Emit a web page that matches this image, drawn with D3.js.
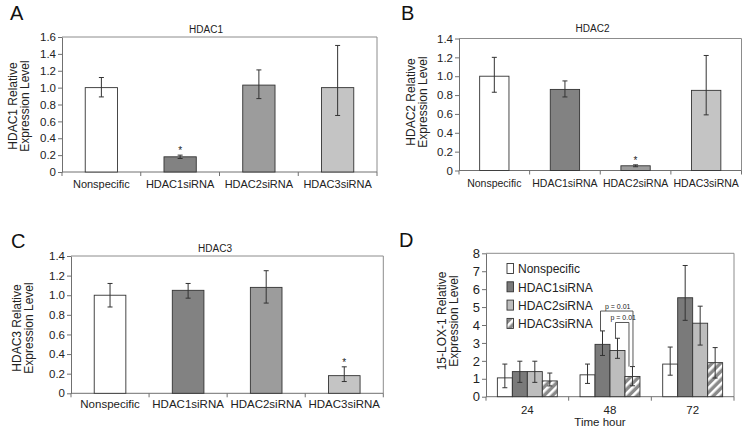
<!DOCTYPE html>
<html>
<head>
<meta charset="utf-8">
<script src="https://cdn.jsdelivr.net/npm/d3@7"></script>
<style>
  html, body { margin: 0; padding: 0; background: #fff; }
  svg { display: block; font-family: "Liberation Sans", Arial, sans-serif; }
</style>
</head>
<body>
<svg id="chart" width="750" height="431"></svg>
<script>
// ---------- DATA ----------
const categories = ["Nonspecific", "HDAC1siRNA", "HDAC2siRNA", "HDAC3siRNA"];

const hdac1Values = [1.00, 0.18, 1.03, 1.00];
const hdac1Low    = [0.89, 0.16, 0.87, 0.67];
const hdac1High   = [1.12, 0.20, 1.21, 1.50];
const hdac1Stars  = [false, true, false, false];
const hdac1Ticks  = [0, 0.2, 0.4, 0.6, 0.8, 1.0, 1.2, 1.4, 1.6];

const hdac2Values = [1.00, 0.86, 0.05, 0.85];
const hdac2Low    = [0.83, 0.78, 0.04, 0.59];
const hdac2High   = [1.20, 0.95, 0.06, 1.22];
const hdac2Stars  = [false, false, true, false];
const hdac2Ticks  = [0, 0.2, 0.4, 0.6, 0.8, 1.0, 1.2, 1.4];

const hdac3Values = [1.00, 1.05, 1.08, 0.18];
const hdac3Low    = [0.88, 0.97, 0.92, 0.12];
const hdac3High   = [1.12, 1.12, 1.25, 0.27];
const hdac3Stars  = [false, false, false, true];
const hdac3Ticks  = [0, 0.2, 0.4, 0.6, 0.8, 1.0, 1.2, 1.4];

const timeGroups = ["24", "48", "72"];
const loxSeries  = ["Nonspecific", "HDAC1siRNA", "HDAC2siRNA", "HDAC3siRNA"];
const loxValues = [ // rows: time, cols: series
  [1.05, 1.40, 1.40, 0.88],
  [1.22, 2.92, 2.58, 1.13],
  [1.82, 5.52, 4.10, 1.90]
];
const loxLow = [
  [0.50, 0.80, 0.80, 0.60],
  [0.74, 2.30, 2.14, 0.61],
  [1.20, 4.26, 2.88, 1.04]
];
const loxHigh = [
  [1.82, 1.98, 1.98, 1.32],
  [1.82, 3.67, 3.26, 1.68],
  [2.77, 7.32, 5.05, 2.74]
];
const loxTicks = [0, 1, 2, 3, 4, 5, 6, 7, 8];
const pBrackets = [
  { group: "48", from: "HDAC1siRNA", to: "HDAC3siRNA", level: 4.78, label: "p = 0.01", inset: 0 },
  { group: "48", from: "HDAC2siRNA", to: "HDAC3siRNA", level: 4.14, label: "p = 0.01", inset: 4 }
];

// ---------- STYLE ----------
const catColors = { "Nonspecific": "#ffffff", "HDAC1siRNA": "#828282", "HDAC2siRNA": "#9c9c9c", "HDAC3siRNA": "#c4c4c4" };
const loxColors = { "Nonspecific": "#ffffff", "HDAC1siRNA": "#7a7a7a", "HDAC2siRNA": "#bdbdbd", "HDAC3siRNA": "url(#hatch)" };
const frameColor = "#8c8c8c";
const axisColor = "#707070";
const barStroke = "#333";
const errColor = "#333";

const svg = d3.select("#chart");
const defs = svg.append("defs");
const pat = defs.append("pattern").attr("id", "hatch")
  .attr("patternUnits", "userSpaceOnUse").attr("width", 6).attr("height", 6)
  .attr("patternTransform", "rotate(45)");
pat.append("rect").attr("width", 6).attr("height", 6).attr("fill", "#8a8a8a");
pat.append("rect").attr("x", 0).attr("width", 2.6).attr("height", 6).attr("fill", "#ffffff");

const yFmt = d => d === 0 ? "0" : d3.format(".1f")(d);

function drawBarPanel(cfg) {
  const g = svg.append("g");
  const x = d3.scaleBand().domain(categories).range([cfg.left, cfg.right])
    .paddingInner(cfg.pad).paddingOuter(cfg.pad / 2);
  const y = d3.scaleLinear().domain([0, cfg.ticks[cfg.ticks.length - 1]]).range([cfg.bottom, cfg.top]);

  // frame (top/right)
  g.append("path")
    .attr("d", `M${cfg.left},${cfg.top}H${cfg.right}V${cfg.bottom}`)
    .attr("fill", "none").attr("stroke", frameColor).attr("stroke-width", 1);

  // y axis
  const ya = g.append("g").attr("transform", `translate(${cfg.left},0)`)
    .call(d3.axisLeft(y).tickValues(cfg.ticks).tickFormat(yFmt).tickSize(4).tickPadding(2).tickSizeOuter(0));
  ya.select(".domain").attr("stroke", axisColor);
  ya.selectAll(".tick line").attr("stroke", axisColor);
  ya.selectAll(".tick text").attr("font-size", cfg.tickFont).attr("fill", "#222")
    .attr("font-family", "'Liberation Sans', Arial, sans-serif");

  // x axis line + boundary ticks
  g.append("line").attr("x1", cfg.left).attr("x2", cfg.right)
    .attr("y1", cfg.bottom).attr("y2", cfg.bottom).attr("stroke", axisColor);
  const step = x.step();
  const bounds = d3.range(categories.length + 1).map(i => cfg.left + i * step);
  g.selectAll(".xt").data(bounds).join("line")
    .attr("x1", d => d).attr("x2", d => d)
    .attr("y1", cfg.bottom).attr("y2", cfg.bottom + 4).attr("stroke", axisColor);
  g.selectAll(".xl").data(categories).join("text")
    .attr("x", d => x(d) + x.bandwidth() / 2).attr("y", cfg.catY)
    .attr("text-anchor", "middle").attr("font-size", cfg.catFont).attr("fill", "#222")
    .text(d => d);

  // bars
  const rows = categories.map((c, i) => ({ c, v: cfg.values[i], lo: cfg.low[i], hi: cfg.high[i], star: cfg.stars[i] }));
  g.selectAll(".bar").data(rows).join("rect")
    .attr("x", d => x(d.c)).attr("width", x.bandwidth())
    .attr("y", d => y(d.v)).attr("height", d => y(0) - y(d.v))
    .attr("fill", d => catColors[d.c]).attr("stroke", barStroke).attr("stroke-width", 0.9);

  // error bars
  const cx = d => x(d.c) + x.bandwidth() / 2;
  g.selectAll(".ev").data(rows).join("line")
    .attr("x1", cx).attr("x2", cx).attr("y1", d => y(d.lo)).attr("y2", d => y(d.hi))
    .attr("stroke", errColor).attr("stroke-width", 1);
  ["lo", "hi"].forEach(k => {
    g.selectAll(".ec" + k).data(rows).join("line")
      .attr("x1", d => cx(d) - 2.5).attr("x2", d => cx(d) + 2.5)
      .attr("y1", d => y(d[k])).attr("y2", d => y(d[k]))
      .attr("stroke", errColor).attr("stroke-width", 1);
  });
  g.selectAll(".star").data(rows.filter(d => d.star)).join("text")
    .attr("x", cx).attr("y", d => y(d.hi) - 1)
    .attr("text-anchor", "middle").attr("font-size", 10).attr("fill", "#222").text("*");

  // title
  g.append("text").attr("x", cfg.titleX).attr("y", cfg.titleY).attr("text-anchor", "middle")
    .attr("font-size", 10).attr("fill", "#222").text(cfg.title);

  // y label (two lines)
  const yl = g.append("text").attr("transform", `translate(${cfg.ylabX},${cfg.ylabY}) rotate(-90)`)
    .attr("text-anchor", "middle").attr("font-size", 12).attr("fill", "#222");
  yl.append("tspan").attr("x", 0).attr("y", 0).text(cfg.ylab1);
  yl.append("tspan").attr("x", 0).attr("y", 12).text("Expression Level");

  // panel letter
  svg.append("text").attr("x", cfg.letterX).attr("y", cfg.letterY)
    .attr("font-size", 20).attr("fill", "#111").text(cfg.letter);
}

drawBarPanel({
  left: 62, right: 377, top: 37, bottom: 172, pad: 0.59,
  ticks: hdac1Ticks, values: hdac1Values, low: hdac1Low, high: hdac1High, stars: hdac1Stars,
  tickFont: 11.5, catFont: 11, catY: 188, title: "HDAC1", titleX: 206, titleY: 32.5,
  ylab1: "HDAC1 Relative", ylabX: 16.5, ylabY: 106, letter: "A", letterX: 10, letterY: 20
});
drawBarPanel({
  left: 459, right: 741.5, top: 38.5, bottom: 170.5, pad: 0.585,
  ticks: hdac2Ticks, values: hdac2Values, low: hdac2Low, high: hdac2High, stars: hdac2Stars,
  tickFont: 11.5, catFont: 10.5, catY: 187, title: "HDAC2", titleX: 592.5, titleY: 31.5,
  ylab1: "HDAC2 Relative", ylabX: 415, ylabY: 102, letter: "B", letterX: 401, letterY: 20
});
drawBarPanel({
  left: 71, right: 383.3, top: 256, bottom: 393.3, pad: 0.595,
  ticks: hdac3Ticks, values: hdac3Values, low: hdac3Low, high: hdac3High, stars: hdac3Stars,
  tickFont: 11.5, catFont: 11.5, catY: 407.5, title: "HDAC3", titleX: 215, titleY: 251.5,
  ylab1: "HDAC3 Relative", ylabX: 20.5, ylabY: 328, letter: "C", letterX: 11, letterY: 248
});

// ---------- PANEL D ----------
(function () {
  const L = 486, R = 734, T = 253.3, B = 396.7;
  const g = svg.append("g");
  const x0 = d3.scaleBand().domain(timeGroups).range([L, R]).paddingInner(0.275).paddingOuter(0.1375);
  const x1 = d3.scaleBand().domain(loxSeries).range([0, x0.bandwidth()]).padding(0);
  const y = d3.scaleLinear().domain([0, 8]).range([B, T]);

  g.append("path").attr("d", `M${L},${T}H${R}V${B}`)
    .attr("fill", "none").attr("stroke", frameColor);

  const ya = g.append("g").attr("transform", `translate(${L},0)`)
    .call(d3.axisLeft(y).tickValues(loxTicks).tickFormat(d3.format("d")).tickSize(4).tickPadding(2).tickSizeOuter(0));
  ya.select(".domain").attr("stroke", axisColor);
  ya.selectAll(".tick line").attr("stroke", axisColor);
  ya.selectAll(".tick text").attr("font-size", 13).attr("fill", "#222")
    .attr("font-family", "'Liberation Sans', Arial, sans-serif");

  g.append("line").attr("x1", L).attr("x2", R).attr("y1", B).attr("y2", B).attr("stroke", axisColor);
  const bounds = d3.range(timeGroups.length + 1).map(i => L + i * x0.step());
  g.selectAll(".xt").data(bounds).join("line")
    .attr("x1", d => d).attr("x2", d => d).attr("y1", B).attr("y2", B + 4).attr("stroke", axisColor);
  g.selectAll(".xl").data(timeGroups).join("text")
    .attr("x", d => x0(d) + x0.bandwidth() / 2).attr("y", 413.5)
    .attr("text-anchor", "middle").attr("font-size", 11.5).attr("fill", "#222").text(d => d);
  g.append("text").attr("x", 600).attr("y", 425.5).attr("text-anchor", "middle")
    .attr("font-size", 11.5).attr("fill", "#222").text("Time hour");

  const rows = [];
  timeGroups.forEach((t, i) => loxSeries.forEach((s, j) => rows.push({
    t, s, v: loxValues[i][j], lo: loxLow[i][j], hi: loxHigh[i][j]
  })));
  const bx = d => x0(d.t) + x1(d.s);
  const cx = d => bx(d) + x1.bandwidth() / 2;
  g.selectAll(".bar").data(rows).join("rect")
    .attr("x", bx).attr("width", x1.bandwidth())
    .attr("y", d => y(d.v)).attr("height", d => y(0) - y(d.v))
    .attr("fill", d => loxColors[d.s]).attr("stroke", barStroke).attr("stroke-width", 0.9);
  g.selectAll(".ev").data(rows).join("line")
    .attr("x1", cx).attr("x2", cx).attr("y1", d => y(d.lo)).attr("y2", d => y(d.hi))
    .attr("stroke", errColor);
  ["lo", "hi"].forEach(k => {
    g.selectAll(".ec" + k).data(rows).join("line")
      .attr("x1", d => cx(d) - 2.5).attr("x2", d => cx(d) + 2.5)
      .attr("y1", d => y(d[k])).attr("y2", d => y(d[k])).attr("stroke", errColor);
  });

  // p-value brackets
  const hiOf = (t, s) => loxHigh[timeGroups.indexOf(t)][loxSeries.indexOf(s)];
  const cOf = (t, s) => x0(t) + x1(s) + x1.bandwidth() / 2;
  pBrackets.forEach(b => {
    const xa = cOf(b.group, b.from) - 2, xb = cOf(b.group, b.to) - b.inset + 0.5;
    const yt = y(b.level);
    g.append("path")
      .attr("d", `M${xa},${y(hiOf(b.group, b.from))}V${yt}H${xb}V${y(hiOf(b.group, b.to))}`)
      .attr("fill", "none").attr("stroke", "#444").attr("stroke-width", 0.9);
    g.append("text").attr("x", (xa + xb) / 2 + 1).attr("y", yt - 2.5)
      .attr("text-anchor", "middle").attr("font-size", 7).attr("fill", "#222").text(b.label);
  });

  // legend
  const lg = g.append("g");
  loxSeries.forEach((s, i) => {
    const yy = 263.5 + i * 18.3;
    lg.append("rect").attr("x", 507).attr("y", yy).attr("width", 6.5).attr("height", 10)
      .attr("fill", loxColors[s]).attr("stroke", barStroke).attr("stroke-width", 0.9);
    lg.append("text").attr("x", 518).attr("y", yy + 9.8).attr("font-size", 12)
      .attr("fill", "#222").text(s);
  });

  const yl = g.append("text").attr("transform", `translate(446,321) rotate(-90)`)
    .attr("text-anchor", "middle").attr("font-size", 12).attr("fill", "#222");
  yl.append("tspan").attr("x", 0).attr("y", 0).text("15-LOX-1 Relative");
  yl.append("tspan").attr("x", 0).attr("y", 12).text("Expression Level");

  svg.append("text").attr("x", 399).attr("y", 247).attr("font-size", 20).attr("fill", "#111").text("D");
})();
</script>
</body>
</html>
